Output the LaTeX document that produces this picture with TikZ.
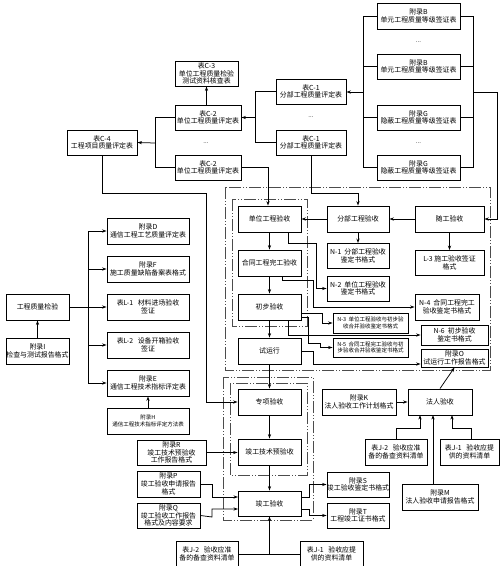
\documentclass[tikz,border=0pt]{standalone}
\usepackage{fontspec}
\setmainfont{Noto Sans CJK SC}
\usetikzlibrary{arrows.meta}
\begin{document}
\begin{tikzpicture}[x=1pt,y=-1pt,
  bx/.style={draw,line width=0.9pt,align=center,inner sep=0pt,font=\fontsize{6.9}{7.7}\selectfont},
  sm/.style={font=\fontsize{5.5}{6.6}\selectfont},
  ar/.style={-{Stealth[length=4.5pt,width=3.2pt]},line width=0.75pt},
  ln/.style={line width=0.75pt},
  frm/.style={line width=0.6pt,black!70,dash pattern=on 12pt off 2pt on 1pt off 2pt on 1pt off 2pt},
  dots/.style={font=\fontsize{6}{6}\selectfont}]
\useasboundingbox (0,0) rectangle (500,566);
% frames
\draw[frm] (225,187) rectangle (490,370);
\draw[frm] (232,199) rectangle (307,326);
\draw[frm] (223,377) rectangle (313,520);
\draw[frm] (230,383) rectangle (307,475);
% top tables
\node[bx,minimum width=63pt,minimum height=25pt] (C3) at (206.5,73.5) {表C-3\\单位工程质量检验\\测试资料核查表};
\node[bx,minimum width=66pt,minimum height=25pt] (C2a) at (208,117.5) {表C-2\\单位工程质量评定表};
\node[dots] (d1) at (206,143) {...};
\node[bx,minimum width=66pt,minimum height=25pt] (C2b) at (208,167.5) {表C-2\\单位工程质量评定表};
\node[bx,minimum width=70pt,minimum height=25pt] (C4) at (102,142.5) {表C-4\\工程项目质量评定表};
\node[bx,minimum width=70pt,minimum height=25pt] (C1a) at (311,91.5) {表C-1\\分部工程质量评定表};
\node[dots] (d2) at (311,117) {...};
\node[bx,minimum width=70pt,minimum height=25pt] (C1b) at (311,142.5) {表C-1\\分部工程质量评定表};
\node[bx,minimum width=83pt,minimum height=26pt] (B1) at (418.5,16) {附录B\\单元工程质量等级签证表};
\node[dots] (d3) at (418.5,42) {...};
\node[bx,minimum width=83pt,minimum height=25pt] (B2) at (418.5,66.5) {附录B\\单元工程质量等级签证表};
\node[bx,minimum width=83pt,minimum height=25pt] (G1) at (418.5,117.5) {附录G\\隐蔽工程质量等级签证表};
\node[dots] (d4) at (418.5,143) {...};
\node[bx,minimum width=83pt,minimum height=25pt] (G2) at (418.5,167.5) {附录G\\隐蔽工程质量等级签证表};
% main column
\node[bx,minimum width=63pt,minimum height=26pt] (dw) at (269.5,219) {单位工程验收};
\node[bx,minimum width=63pt,minimum height=26pt] (ht) at (269.5,263) {合同工程完工验收};
\node[bx,minimum width=63pt,minimum height=26pt] (cb) at (269.5,307) {初步验收};
\node[bx,minimum width=63pt,minimum height=26pt] (sy) at (269.5,351) {试运行};
\node[bx,minimum width=63pt,minimum height=26pt] (zx) at (269.5,402) {专项验收};
\node[bx,minimum width=63pt,minimum height=26pt] (js) at (269.5,452) {竣工技术预验收};
\node[bx,minimum width=63pt,minimum height=25pt] (jg) at (269.5,503.5) {竣工验收};
% right of main column
\node[bx,minimum width=62pt,minimum height=26pt] (fb) at (358,219) {分部工程验收};
\node[bx,minimum width=62pt,minimum height=25pt] (N1) at (358,256) {N-1\ \ 分部工程验收\\鉴定书格式};
\node[bx,minimum width=62pt,minimum height=25pt] (N2) at (358,288.5) {N-2\ \ 单位工程验收\\鉴定书格式};
\node[bx,minimum width=69pt,minimum height=26pt] (sg) at (449.5,219) {随工验收};
\node[bx,minimum width=69pt,minimum height=25pt] (L3) at (449.5,263) {L-3 施工验收签证\\格式};
\node[bx,minimum width=64pt,minimum height=26pt] (N4) at (447,307) {N-4\ \ 合同工程完工\\验收鉴定书格式};
\node[bx,sm,minimum width=75pt,minimum height=20pt] (N3) at (370.5,323) {N-3\ \ 单位工程验收与初步验\\收合并验收鉴定书格式};
\node[bx,minimum width=67pt,minimum height=20pt] (N6) at (454.5,335) {N-6\ \ 初步验收\\鉴定书格式};
\node[bx,sm,minimum width=75pt,minimum height=19pt] (N5) at (370.5,347.5) {N-5\ \ 合同工程完工验收与初\\步验收合并验收鉴定书格式};
\node[bx,minimum width=67pt,minimum height=18pt] (O) at (454.5,358) {附录O\\试运行工作报告格式};
% left part
\node[bx,minimum width=63pt,minimum height=26pt] (gz) at (37.5,307) {工程质量检验};
\node[bx,minimum width=63pt,minimum height=26pt] (I) at (37.5,351) {附录I\\检查与测试报告格式};
\node[bx,minimum width=82pt,minimum height=26pt] (D) at (148,231) {附录D\\通信工程工艺质量评定表};
\node[bx,minimum width=82pt,minimum height=26pt] (F) at (148,269) {附录F\\施工质量缺陷备案表格式};
\node[bx,minimum width=82pt,minimum height=26pt] (L1) at (148,307) {表L-1\ \ \ 材料进场验收\\签证};
\node[bx,minimum width=82pt,minimum height=26pt] (L2) at (148,345) {表L-2\ \ \ 设备开箱验收\\签证};
\node[bx,minimum width=82pt,minimum height=26pt] (E) at (148,383) {附录E\\通信工程技术指标评定表};
\node[bx,sm,minimum width=82pt,minimum height=26pt] (H) at (148,421) {附录H\\通信工程技术指标评定方法表};
% bottom left
\node[bx,minimum width=69pt,minimum height=25pt] (R) at (171.5,452.5) {附录R\\竣工技术预验收\\工作报告格式};
\node[bx,minimum width=63pt,minimum height=26pt] (P) at (168.5,484) {附录P\\竣工验收申请报告\\格式};
\node[bx,minimum width=63pt,minimum height=25pt] (Q) at (168.5,515.5) {附录Q\\竣工验收工作报告\\格式及内容要求};
\node[bx,minimum width=62pt,minimum height=26pt] (J2a) at (207,554) {表J-2\ \ \ 验收应准\\备的备查资料清单};
\node[bx,minimum width=63pt,minimum height=26pt] (J1a) at (331.5,554) {表J-1\ \ \ 验收应提\\供的资料清单};
\node[bx,minimum width=62pt,minimum height=25pt] (S) at (358,484.5) {附录S\\竣工验收鉴定书格式};
\node[bx,minimum width=62pt,minimum height=25pt] (T) at (358,515.5) {附录T\\工程竣工证书格式};
% bottom right
\node[bx,minimum width=64pt,minimum height=26pt] (fr) at (440,402) {法人验收};
\node[bx,minimum width=74pt,minimum height=26pt] (K) at (359,402) {附录K\\法人验收工作计划格式};
\node[bx,minimum width=62pt,minimum height=26pt] (J2b) at (396,452) {表J-2\ \ \ 验收应准\\备的备查资料清单};
\node[bx,minimum width=59pt,minimum height=26pt] (J1b) at (469.5,452) {表J-1\ \ \ 验收应提\\供的资料清单};
\node[bx,minimum width=76pt,minimum height=26pt] (M) at (440,497) {附录M\\法人验收申请报告格式};
% coordinates
\coordinate (k1) at (155,143);
\coordinate (k2) at (255,117.5);
\coordinate (k3) at (363,92);
\coordinate (k4) at (473,92);
\coordinate (k5) at (88,307);
% connectors: top
\draw[ar] (C2a.north -| C3.south) -- (C3.south);
\draw[ln] (C2a.west) -| (k1) (C2b.west) -| (k1);
\draw[ar] (k1) -- (C4.east);
\draw[ln] (C1a.west) -| (k2) (C1b.west) -| (k2);
\draw[ar] (k2) -- (C2a.east);
\draw[ln] (B1.west) -| (k3) (G2.west) -| (k3) (B2.west) -- (B2.west -| k3) (G1.west) -- (G1.west -| k3);
\draw[ar] (k3) -- (k3 -| C1a.east);
\draw[ln] (B1.east) -| (k4) (G2.east) -| (k4) (B2.east) -- (B2.east -| k4) (G1.east) -- (G1.east -| k4);
\draw[ar] (k4) -- (497,92) |- (sg.east);
\draw[ar] (C2b.east) -- (268,167.5) -- (dw.north -| 268,0);
\draw[ar] (C1b.south) -- (311,193) -| (fb.north);
\draw[ar] (C4.south) -- (102,193) -- (206,193) |- (zx.west);
% main column arrows
\draw[ar] (sg.west) -- (fb.east);
\draw[ar] (fb.west) -- (dw.east);
\draw[ar] (sg.south) -- (L3.north);
\draw[ar] (fb.south) -- (N1.north);
\draw[ar] (dw.south) -- (ht.north);
\draw[ar] (ht.south) -- (cb.north);
\draw[ar] (cb.south) -- (sy.north);
\draw[ar] (sy.south) -- (zx.north);
\draw[ar] (zx.south) -- (js.north);
\draw[ar] (js.south) -- (jg.north);
\draw[ar] (288,232) -- (288,243) -- (316,243) |- (N2.west);
\draw[ar] (282,276) -- (282,280) -- (313,280) |- (N4.west);
\draw[ar] (301,313) -- (322,313) |- (N3.west);
\draw[ar] (288,320) |- (N6.west);
\draw[ar] (301,317) -- (308,317) -- (308,343) -- (320,343) |- (N5.west);
\draw[ar] (sy.east) -- (313,351) |- (O.west |- 0,364);
% left part
\draw[ar] (I.north) -- (gz.south);
\draw[ar] (gz.east) -- (L1.west);
\draw[ln] (D.west -| k5) -- (E.west -| k5);
\draw[ar] (D.west -| k5) -- (D.west);
\draw[ar] (F.west -| k5) -- (F.west);
\draw[ar] (L2.west -| k5) -- (L2.west);
\draw[ar] (E.west -| k5) -- (E.west);
\draw[ar] (H.north) -- (E.south);
% bottom
\draw[ar] (R.east) -- (R.east -| js.west);
\draw[ar] (P.east) -- (212,484) |- (238,497);
\draw[ar] (Q.east) -- (212,517) |- (238,509);
\draw[ln] (J2a.east) -- (J1a.west);
\draw[ar] (J2a.east -| jg.south) -- (jg.south);
\draw[ar] (301,497) -- (309,497) |- (S.west);
\draw[ar] (301,509) -- (309,509) |- (T.west);
\draw[ar] (fr.north) -- (O.south);
\draw[ar] (K.east) -- (fr.west);
\draw[ar] (J2b.north) -- (396,428) -| (420,415);
\draw[ar] (471,439) -- (471,428) -| (452,415);
\draw[ar] (433,484) -- (433,415);
\end{tikzpicture}
\end{document}
